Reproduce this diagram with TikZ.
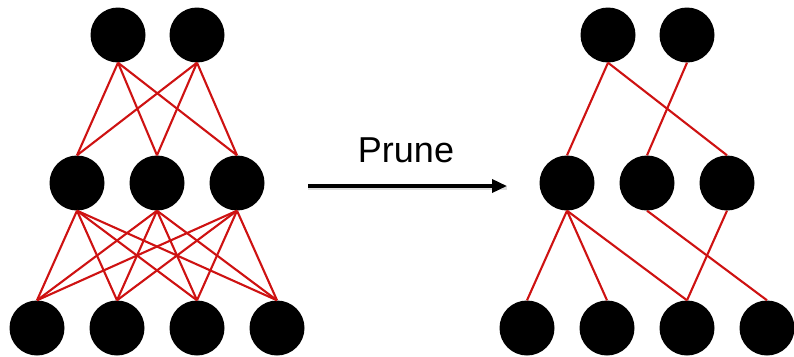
\documentclass[tikz,border=0pt]{standalone}
\usepackage{fontspec}
\setmainfont{Liberation Sans}
\usetikzlibrary{arrows.meta}
\definecolor{link-red}{RGB}{206, 18, 18}
\definecolor{shade-grey}{RGB}{200, 200, 200}
\tikzset{
  unit/.style={circle, fill=black, minimum size=55pt, inner sep=0pt},
  link/.style={draw=link-red, line width=2.1pt}
}

\begin{document}
\begin{tikzpicture}[x=1pt, y=-1pt]
\useasboundingbox (0,0) rectangle (794,356);
% dense network
\node[unit] (a1) at (118,35) {};
\node[unit] (a2) at (197,35) {};
\node[unit] (b1) at (77,183) {};
\node[unit] (b2) at (157,183) {};
\node[unit] (b3) at (237,183) {};
\node[unit] (c1) at (37,328) {};
\node[unit] (c2) at (117,328) {};
\node[unit] (c3) at (197,328) {};
\node[unit] (c4) at (277,328) {};
\foreach \i in {a1,a2}
  \foreach \j in {b1,b2,b3}
    \draw[link] (\i.south) -- (\j.north);
\foreach \i in {b1,b2,b3}
  \foreach \j in {c1,c2,c3,c4}
    \draw[link] (\i.south) -- (\j.north);

% pruned network
\node[unit] (p1) at (608,35) {};
\node[unit] (p2) at (687,35) {};
\node[unit] (q1) at (567,183) {};
\node[unit] (q2) at (647,183) {};
\node[unit] (q3) at (727,183) {};
\node[unit] (r1) at (527,328) {};
\node[unit] (r2) at (607,328) {};
\node[unit] (r3) at (687,328) {};
\node[unit] (r4) at (767,328) {};
\draw[link] (p1.south) -- (q1.north);
\draw[link] (p1.south) -- (q3.north);
\draw[link] (p2.south) -- (q2.north);
\draw[link] (q1.south) -- (r1.north);
\draw[link] (q1.south) -- (r2.north);
\draw[link] (q1.south) -- (r3.north);
\draw[link] (q2.south) -- (r4.north);
\draw[link] (q3.south) -- (r3.north);

% arrow between them
\coordinate (from) at (308,186);
\coordinate (to) at (507,186);
\draw[shade-grey, line width=4pt, opacity=0.6] ([yshift=-2pt]from) -- ([yshift=-2pt]to);
\draw[line width=3.5pt, -{Triangle[length=15pt,width=13pt]}] (from) -- (to);
\node[font=\fontsize{36}{42}\selectfont, anchor=base] (prune) at (406,162) {Prune};
\end{tikzpicture}
\end{document}
